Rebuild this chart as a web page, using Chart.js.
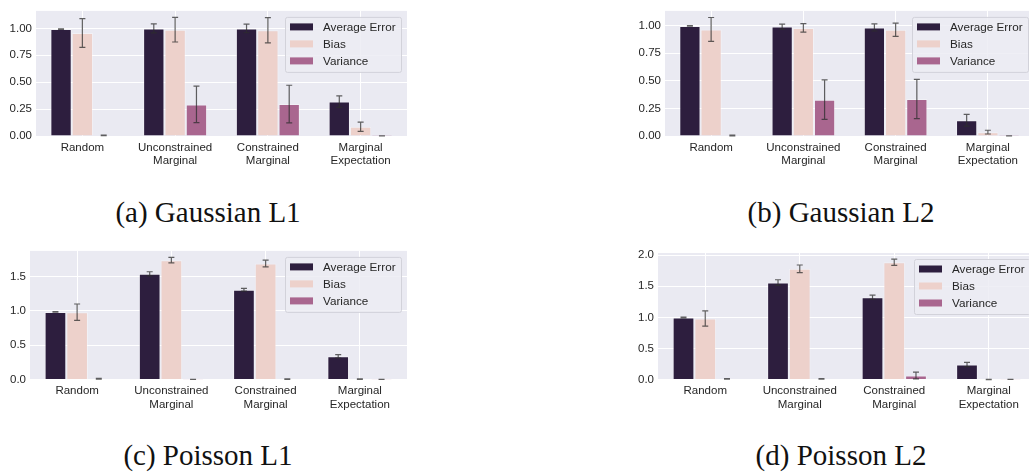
<!DOCTYPE html>
<html>
<head>
<meta charset="utf-8">
<script src="https://cdn.jsdelivr.net/npm/chart.js@4.4.1/dist/chart.umd.min.js"></script>
<style>
  html, body { margin: 0; padding: 0; background: #fff; overflow: hidden; }
  body { width: 1029px; height: 476px; position: relative; }
  canvas { position: absolute; }
  .cap {
    position: absolute; width: 300px; text-align: center;
    font-family: "Liberation Serif", "DejaVu Serif", serif;
    font-size: 29px; line-height: 30px; color: #111;
  }
</style>
</head>
<body>
<canvas id="gaussL1" width="407" height="170" style="left:0;top:0"></canvas>
<canvas id="gaussL2" width="434" height="170" style="left:600px;top:0"></canvas>
<canvas id="poisL1" width="407" height="170" style="left:0;top:240px"></canvas>
<canvas id="poisL2" width="436" height="170" style="left:600px;top:240px"></canvas>
<div class="cap" style="left:58px;top:197px">(a) Gaussian L1</div>
<div class="cap" style="left:691px;top:197px">(b) Gaussian L2</div>
<div class="cap" style="left:58px;top:440px">(c) Poisson L1</div>
<div class="cap" style="left:691px;top:440px">(d) Poisson L2</div>
<script>
// categories + series
const categories = ['Random', ['Unconstrained', 'Marginal'], ['Constrained', 'Marginal'], ['Marginal', 'Expectation']];
const seriesNames = ['Average Error', 'Bias', 'Variance'];
const seriesColors = ['#2d1e3e', '#edd1cb', '#a9668f'];

// (a) Gaussian L1
const gaussL1AvgErr = [0.994, 1.000, 1.000, 0.320];
const gaussL1AvgErrSd = [0.003, 0.042, 0.040, 0.053];
const gaussL1Bias = [0.958, 0.988, 0.983, 0.086];
const gaussL1BiasSd = [0.134, 0.114, 0.118, 0.043];
const gaussL1Var = [0.006, 0.294, 0.297, 0.001];
const gaussL1VarSd = [0.003, 0.170, 0.175, 0.001];

// (b) Gaussian L2
const gaussL2AvgErr = [0.997, 0.991, 0.983, 0.142];
const gaussL2AvgErrSd = [0.003, 0.023, 0.032, 0.053];
const gaussL2Bias = [0.965, 0.979, 0.962, 0.035];
const gaussL2BiasSd = [0.108, 0.038, 0.060, 0.017];
const gaussL2Var = [0.005, 0.329, 0.335, 0.001];
const gaussL2VarSd = [0.003, 0.179, 0.178, 0.001];

// (c) Poisson L1
const poisL1AvgErr = [0.987, 1.543, 1.311, 0.339];
const poisL1AvgErrSd = [0.005, 0.030, 0.020, 0.025];
const poisL1Bias = [0.982, 1.742, 1.693, 0.005];
const poisL1BiasSd = [0.120, 0.040, 0.050, 0.003];
const poisL1Var = [0.010, 0.001, 0.005, 0.001];
const poisL1VarSd = [0.005, 0.001, 0.003, 0.001];

// (d) Poisson L2
const poisL2AvgErr = [0.997, 1.560, 1.324, 0.241];
const poisL2AvgErrSd = [0.005, 0.045, 0.033, 0.035];
const poisL2Bias = [0.981, 1.780, 1.887, 0.000];
const poisL2BiasSd = [0.123, 0.062, 0.050, 0.002];
const poisL2Var = [0.010, 0.010, 0.064, 0.002];
const poisL2VarSd = [0.005, 0.005, 0.055, 0.002];

// y tick labels
const gaussTicks = [0, 0.25, 0.5, 0.75, 1.0];
const poisL1Ticks = [0, 0.5, 1.0, 1.5];
const poisL2Ticks = [0, 0.5, 1.0, 1.5, 2.0];

const FONT = '"Liberation Sans", Arial, sans-serif';
const TEXT = '#262626';

// background of plot area
const bgPlugin = {
    id: 'bg',
    beforeDraw(chart) {
        const a = chart.chartArea, ctx = chart.ctx;
        ctx.save();
        ctx.fillStyle = '#eaeaf2';
        ctx.fillRect(a.left, a.top, a.right - a.left, a.bottom - a.top);
        ctx.restore();
    },
};

// error bars from dataset.errors
const errPlugin = {
    id: 'errbars',
    afterDatasetsDraw(chart) {
        const ctx = chart.ctx, y = chart.scales.y;
        ctx.save();
        ctx.strokeStyle = 'rgba(45,45,45,0.75)';
        ctx.lineWidth = 1.2;
        chart.data.datasets.forEach((ds, i) => {
            chart.getDatasetMeta(i).data.forEach((bar, j) => {
                const v = ds.data[j], e = ds.errors[j];
                const y1 = y.getPixelForValue(v + e), y2 = y.getPixelForValue(v - e);
                const x = bar.x;
                ctx.beginPath();
                ctx.moveTo(x, y1); ctx.lineTo(x, y2);
                ctx.moveTo(x - 3, y1); ctx.lineTo(x + 3, y1);
                ctx.moveTo(x - 3, y2); ctx.lineTo(x + 3, y2);
                ctx.stroke();
            });
        });
        ctx.restore();
    },
};

// legend box inside the plot, upper right
const legendPlugin = {
    id: 'boxLegend',
    afterDraw(chart) {
        const ctx = chart.ctx, a = chart.chartArea;
        const w = 116, h = 55, right = a.right - 6, top = a.top + 6;
        const left = right - w;
        ctx.save();
        ctx.fillStyle = 'rgba(236,236,243,0.85)';
        ctx.strokeStyle = '#d2d2da';
        ctx.lineWidth = 1;
        ctx.beginPath();
        ctx.roundRect(left + 0.5, top + 0.5, w, h, 2);
        ctx.fill();
        ctx.stroke();
        ctx.font = '11.7px ' + FONT;
        ctx.textBaseline = 'middle';
        chart.data.datasets.forEach((ds, i) => {
            const cy = top + 10 + i * 17;
            ctx.fillStyle = ds.backgroundColor;
            ctx.fillRect(left + 5, cy - 3.5, 23, 7);
            ctx.fillStyle = TEXT;
            ctx.fillText(ds.label, left + 38, cy + 0.5);
        });
        ctx.restore();
    },
};

function makeChart(id, values, errors, yMax, yTicks, decimals, yWidth, padTop, xHeight) {
    return new Chart(document.getElementById(id), {
        type: 'bar',
        data: {
            labels: categories,
            datasets: seriesNames.map((name, i) => ({
                label: name,
                data: values[i],
                errors: errors[i],
                backgroundColor: seriesColors[i],
                borderColor: 'rgba(255,255,255,0.35)',
                borderWidth: 1,
                categoryPercentage: 0.69,
                barPercentage: 1.0,
            })),
        },
        options: {
            responsive: false,
            animation: false,
            layout: { padding: { top: padTop, left: 0, right: 0, bottom: 0 } },
            plugins: { legend: { display: false }, tooltip: { enabled: false } },
            scales: {
                x: {
                    offset: true,
                    grid: { color: '#ffffff', lineWidth: 1, offset: false, drawTicks: false },
                    border: { display: false },
                    ticks: {
                        color: TEXT, font: { family: FONT, size: 11.5, lineHeight: 1.15 },
                        padding: 5, maxRotation: 0, autoSkip: false,
                    },
                    afterFit: s => { s.height = xHeight; },
                },
                y: {
                    min: 0,
                    max: yMax,
                    grid: { color: '#ffffff', lineWidth: 1, drawTicks: false },
                    border: { display: false },
                    ticks: {
                        color: TEXT, font: { family: FONT, size: 11.5 }, padding: 4,
                        callback: v => Number(v).toFixed(decimals),
                    },
                    afterBuildTicks: s => { s.ticks = yTicks.map(v => ({ value: v })); },
                    afterFit: s => { s.width = yWidth; },
                },
            },
        },
        plugins: [bgPlugin, errPlugin, legendPlugin],
    });
}

makeChart('gaussL1',
    [gaussL1AvgErr, gaussL1Bias, gaussL1Var],
    [gaussL1AvgErrSd, gaussL1BiasSd, gaussL1VarSd],
    1.163, gaussTicks, 2, 36, 5, 34);

makeChart('gaussL2',
    [gaussL2AvgErr, gaussL2Bias, gaussL2Var],
    [gaussL2AvgErrSd, gaussL2BiasSd, gaussL2VarSd],
    1.133, gaussTicks, 2, 65, 5, 34);

makeChart('poisL1',
    [poisL1AvgErr, poisL1Bias, poisL1Var],
    [poisL1AvgErrSd, poisL1BiasSd, poisL1VarSd],
    1.877, poisL1Ticks, 1, 30, 10, 30.5);

makeChart('poisL2',
    [poisL2AvgErr, poisL2Bias, poisL2Var],
    [poisL2AvgErrSd, poisL2BiasSd, poisL2VarSd],
    2.035, poisL2Ticks, 1, 58, 13, 30.5);
</script>
</body>
</html>
